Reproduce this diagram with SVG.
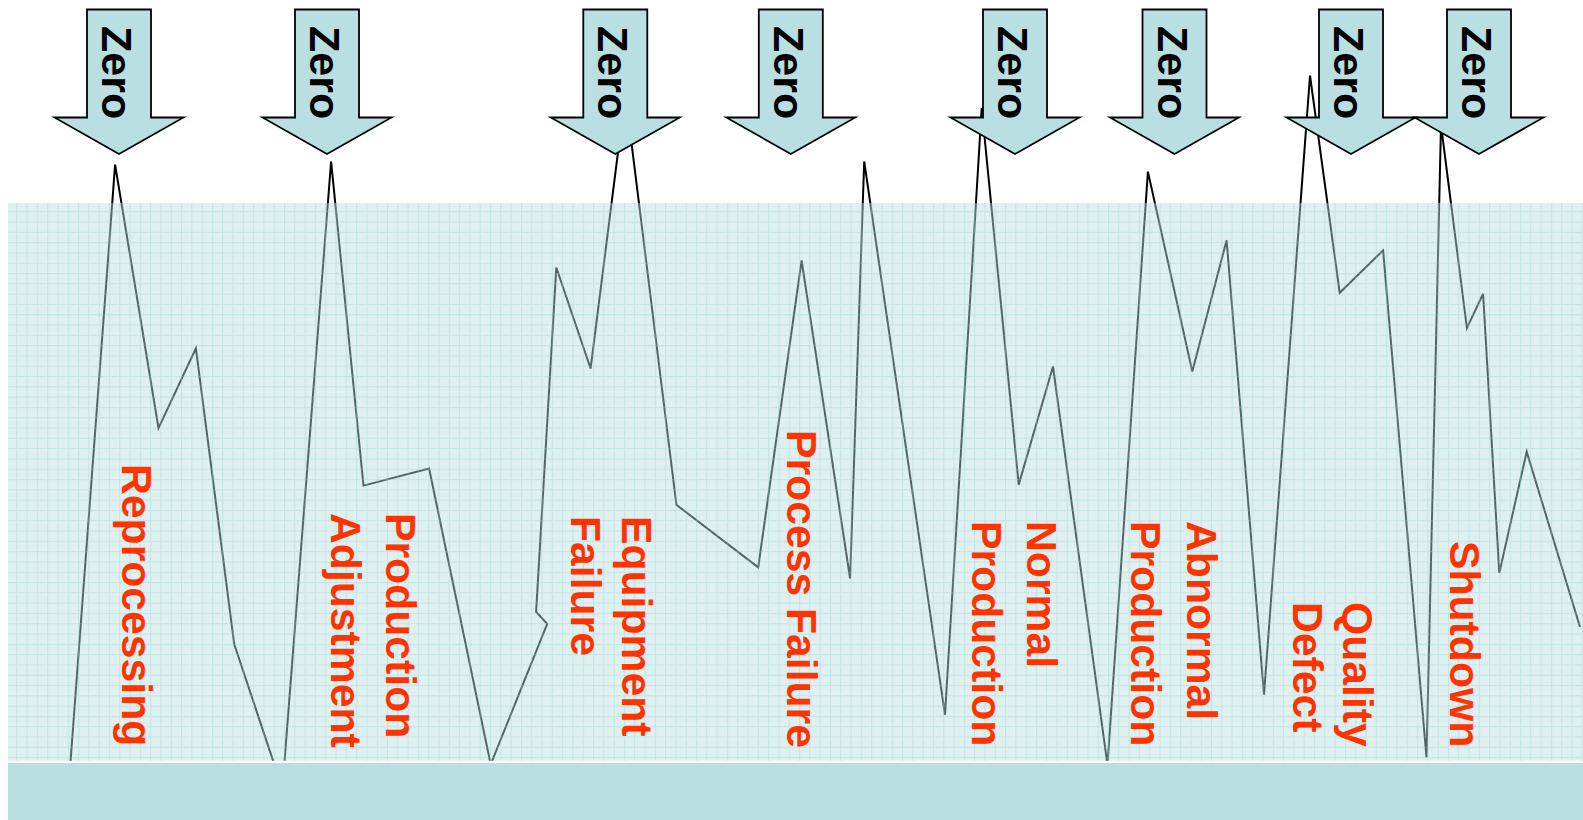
<svg xmlns="http://www.w3.org/2000/svg" width="1583" height="820" viewBox="0 0 1583 820">
  <style>
    .zero-shape { fill: #b9dfe2; stroke: #000; stroke-width: 1.8; stroke-linejoin: miter; }
    .zero-text { font-family: "Liberation Sans", Arial, sans-serif; font-weight: bold; font-size: 43px; fill: #000; }
    .lbl { font-family: "Liberation Sans", Arial, sans-serif; font-weight: bold; font-size: 42.7px; fill: #ff3300; }
    .trend { fill: none; stroke: #000; stroke-width: 2; stroke-linejoin: miter; }
  </style>
  <defs>
    <!-- downward block arrow, centred on x = 0 -->
    <path id="zero-arrow" d="M -32 9.5 H 32 V 117.5 H 64.5 L 0 154 L -64.5 117.5 H -32 Z"/>
    <!-- graph-paper overlay: translucent wash with a 10.3 px grid -->
    <pattern id="grid" patternUnits="userSpaceOnUse" x="16.2" y="211.2" width="10.3" height="10.3">
      <rect x="0" y="0" width="10.3" height="10.3" fill="#b8dee0" fill-opacity="0.45"/>
      <rect x="0" y="0" width="1.1" height="10.3" fill="#96cdd2" fill-opacity="0.34"/>
      <rect x="1.1" y="0" width="9.2" height="1.1" fill="#96cdd2" fill-opacity="0.34"/>
    </pattern>
  </defs>

  <rect width="1583" height="820" fill="#fff"/>

  <!-- fluctuating trend line (drawn under the grid wash) -->
  <g id="connectors">
    <polyline id="trend-line" class="trend" points="68.4,790 115.1,164.6 158.5,428.1 195.9,348.3 234.2,644.1 282.4,788.7 331.1,161.5 363.5,485.6 429.1,468.5 490.7,764.4 547.2,623.9 536.1,611.8 556.3,267.5 590.6,368.5 625.4,93.9 676.4,504.8 758.2,567.4 801.6,260.5 850.1,578.5 864.2,161.5 945,714.8 981.7,108 1018.7,484.6 1053,366.5 1107.5,765 1147.9,171.6 1192.3,371.5 1226.6,240.3 1264,694.6 1310,75.5 1339.7,292.8 1383.1,250.4 1426.5,757.5 1441,125 1466.9,328.1 1483.1,293.8 1499.3,573 1526.7,451.7 1580,627"/>
  </g>

  <!-- chart background -->
  <g id="chart-area">
    <rect x="8" y="203" width="1575" height="558" fill="url(#grid)"/>
    <rect x="8" y="760.8" width="1575" height="2.2" fill="#fff"/>
    <rect x="8" y="763" width="1575" height="57" fill="#b9dfe2"/>
  </g>

  <!-- "Zero" arrows -->
  <g id="zero-1">
    <use href="#zero-arrow" class="zero-shape" transform="translate(119 0)"/>
    <text class="zero-text" transform="translate(102 26) rotate(90)">Zero</text>
  </g>
  <g id="zero-2">
    <use href="#zero-arrow" class="zero-shape" transform="translate(327 0)"/>
    <text class="zero-text" transform="translate(310 26) rotate(90)">Zero</text>
  </g>
  <g id="zero-3">
    <use href="#zero-arrow" class="zero-shape" transform="translate(615.3 0)"/>
    <text class="zero-text" transform="translate(598.3 26) rotate(90)">Zero</text>
  </g>
  <g id="zero-4">
    <use href="#zero-arrow" class="zero-shape" transform="translate(790.8 0)"/>
    <text class="zero-text" transform="translate(773.8 26) rotate(90)">Zero</text>
  </g>
  <g id="zero-5">
    <use href="#zero-arrow" class="zero-shape" transform="translate(1015 0)"/>
    <text class="zero-text" transform="translate(998 26) rotate(90)">Zero</text>
  </g>
  <g id="zero-6">
    <use href="#zero-arrow" class="zero-shape" transform="translate(1174.5 0)"/>
    <text class="zero-text" transform="translate(1157.5 26) rotate(90)">Zero</text>
  </g>
  <g id="zero-7">
    <use href="#zero-arrow" class="zero-shape" transform="translate(1351 0)"/>
    <text class="zero-text" transform="translate(1334 26) rotate(90)">Zero</text>
  </g>
  <g id="zero-8">
    <use href="#zero-arrow" class="zero-shape" transform="translate(1479 0)"/>
    <text class="zero-text" transform="translate(1462 26) rotate(90)">Zero</text>
  </g>

  <!-- event labels, set vertically -->
  <g id="label-reprocessing">
    <text class="lbl" transform="translate(121.5 464) rotate(90)">Reprocessing</text>
  </g>
  <g id="label-production-adjustment">
    <text class="lbl" transform="translate(386 513) rotate(90)">Production</text>
    <text class="lbl" transform="translate(331 513) rotate(90)">Adjustment</text>
  </g>
  <g id="label-equipment-failure">
    <text class="lbl" transform="translate(622 516) rotate(90)">Equipment</text>
    <text class="lbl" transform="translate(571 516) rotate(90)">Failure</text>
  </g>
  <g id="label-process-failure">
    <text class="lbl" transform="translate(787 430) rotate(90)">Process Failure</text>
  </g>
  <g id="label-normal-production">
    <text class="lbl" transform="translate(1027 521) rotate(90)">Normal</text>
    <text class="lbl" transform="translate(971.5 521) rotate(90)">Production</text>
  </g>
  <g id="label-abnormal-production">
    <text class="lbl" transform="translate(1186.5 521) rotate(90)">Abnormal</text>
    <text class="lbl" transform="translate(1131 521) rotate(90)">Production</text>
  </g>
  <g id="label-quality-defect">
    <text class="lbl" transform="translate(1343 602) rotate(90)">Quality</text>
    <text class="lbl" transform="translate(1292.5 602) rotate(90)">Defect</text>
  </g>
  <g id="label-shutdown">
    <text class="lbl" transform="translate(1450 541) rotate(90)">Shutdown</text>
  </g>
</svg>
